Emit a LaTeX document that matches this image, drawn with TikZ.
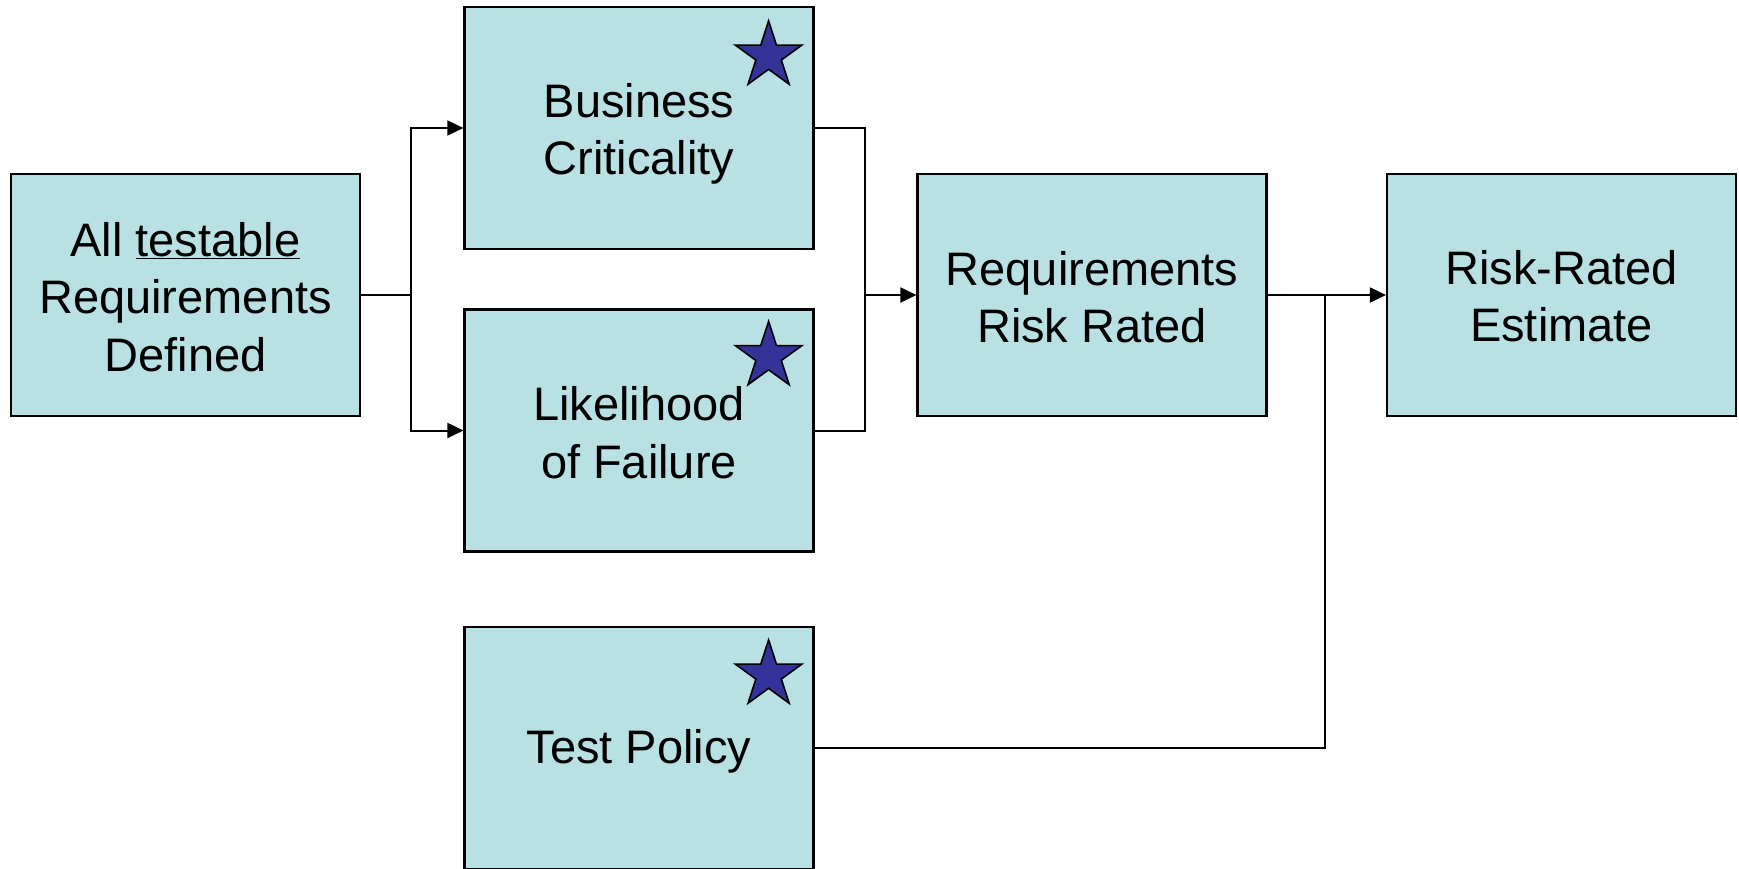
\documentclass[tikz,border=0pt]{standalone}
\usepackage{fontspec}
\setmainfont{Liberation Sans}
\usetikzlibrary{shapes.geometric,arrows.meta,calc}
\definecolor{boxfill}{HTML}{B9E0E3}
\definecolor{starfill}{HTML}{333399}
\begin{document}
\begin{tikzpicture}[x=1pt,y=-1pt,
  box/.style={draw=black,line width=2.2pt,fill=boxfill,minimum width=349pt,minimum height=242pt,
    inner sep=0pt},
  txt/.style={inner sep=0pt,align=center,font=\fontsize{47pt}{57.5pt}\selectfont},
  starsh/.style={star,star points=5,star point ratio=2.618,minimum size=70pt,inner sep=0pt,
    draw=black,line width=1.6pt,fill=starfill},
  conn/.style={line width=2pt,draw=black},
  arr/.style={conn,-{Triangle[length=16pt,width=15pt]}}]
\useasboundingbox (0,0) rectangle (1739,868);
\node[box] (req) at (185.5,295) {};
\node[box] (bc) at (639,128) {};
\node[box] (lf) at (639,430.5) {};
\node[box] (tp) at (639,748) {};
\node[box] (rr) at (1092,295) {};
\node[box] (re) at (1561.5,295) {};
\node[txt] (reqt) at ($(req)+(0,2)$) {All \underline{testable}\\Requirements\\Defined};
\node[txt] (bct) at ($(bc)+(0,6)$) {Business\\Criticality};
\node[txt] (lft) at ($(lf)+(0,2)$) {Likelihood\\of Failure};
\node[txt] (tpt) at ($(tp)+(0,3)$) {Test Policy};
\node[txt] (rrt) at ($(rr)+(0,2)$) {Requirements\\Risk Rated};
\node[txt] (ret) at ($(re)+(0,1)$) {Risk-Rated\\Estimate};
\node[starsh] (s1) at ($(bc.north east)+(-46,50)$) {};
\node[starsh] (s2) at ($(lf.north east)+(-46,48)$) {};
\node[starsh] (s3) at ($(tp.north east)+(-46,49)$) {};
\coordinate (br) at (411,295);
\coordinate (mg) at (865,295);
\coordinate (jn) at (1325,295);
\draw[conn] (req.east) -- (br);
\draw[arr] (br) |- (bc.west);
\draw[arr] (br) |- (lf.west);
\draw[conn] (bc.east) -| (mg);
\draw[conn] (lf.east) -| (mg);
\draw[arr] (mg) -- (rr.west);
\draw[arr] (rr.east) -- (re.west);
\draw[conn] (tp.east) -| (jn);
\end{tikzpicture}
\end{document}
